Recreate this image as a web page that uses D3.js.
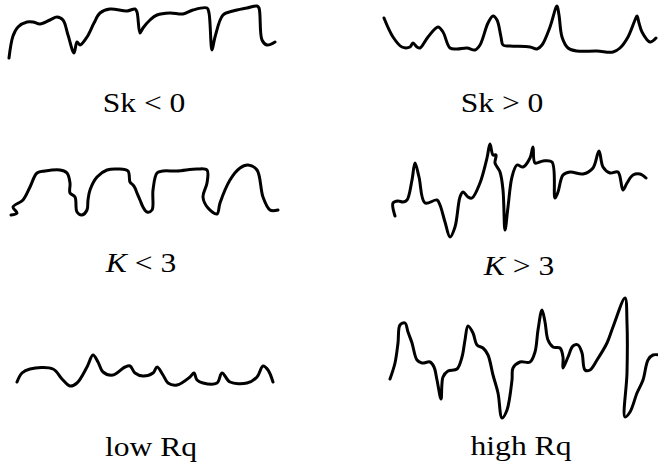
<!DOCTYPE html>
<meta charset="utf-8">
<style>
body { margin: 0; background: #fff; }
svg { display: block; background: #fff; }
.profile { fill: none; stroke: #000; stroke-width: 3px; stroke-linejoin: round; stroke-linecap: round; }
.label { font-family: "Liberation Serif", "Times New Roman", serif; font-size: 27px; fill: #000; }
</style>
<body>
<div id="main"></div>
<script src="https://d3js.org/d3.v7.min.js"></script>
<script>

// profile heights above each row's baseline, as [position, height]
var skNeg = [[9,2],[13,24],[18,33],[27,38],[33,38],[40,36],[50,40],[57,43],[63,40],[68,25],[74,7],[77,18],[80,15],[87,23],[94,37],
  [100,47],[110,51],[127,49],[135,51],[137,48],[140,27],[143,32],[150,40],[157,45],[170,47],[183,46],[193,50],[207,52],
  [209,47],[212,10],[215,23],[223,45],[233,49],[247,52],[257,54],[259,52],[262,20],[267,15],[275,18]];

var skPos = [[14,42],[23,23],[32,13],[40,13],[43,17],[47,13],[50,12],[58,23],[68,33],[73,28],[80,12],[87,11],[97,12],
  [105,10],[110,15],[118,37],[123,44],[127,40],[131,23],[133,15],[140,14],[160,13],[167,11],[172,15],[180,33],[187,54],
  [189,45],[192,23],[198,12],[207,9],[227,9],[243,8],[250,12],[258,23],[265,40],[267,44],[269,37],[272,28],[280,18],[286,22]];

var kLow = [[11,25],[17,27],[13,33],[23,40],[30,53],[37,67],[45,69],[60,70],[67,67],[70,57],[70,47],[75,43],[77,28],[82,25],
  [87,30],[88,40],[90,50],[97,63],[107,70],[118,71],[128,69],[130,58],[133,55],[135,52],[137,47],[140,40],[143,33],[147,28],
  [152,30],[153,50],[157,67],[163,69],[177,69],[197,71],[207,70],[207,57],[203,43],[208,32],[217,26],[220,37],[230,60],
  [240,72],[248,75],[257,70],[263,43],[270,30],[278,30]];

var kHigh = [[25,24],[23,37],[28,39],[33,38],[37,40],[42,60],[45,77],[49,63],[55,37],[67,40],[70,35],[75,18],[80,3],[85,13],
  [90,43],[93,48],[98,43],[102,42],[110,57],[117,82],[120,96],[123,85],[126,85],[125,77],[130,68],[133,50],[135,10],[138,33],
  [142,63],[147,75],[153,73],[160,82],[163,93],[165,77],[173,79],[182,78],[185,42],[188,48],[193,65],[200,68],[213,66],
  [223,72],[229,89],[233,73],[240,67],[248,68],[253,50],[257,57],[263,65],[270,66],[276,62]];

var rqLow = [[17,38],[22,47],[30,51],[53,51],[62,41],[70,34],[77,37],[87,53],[93,65],[98,58],[103,48],[113,45],[125,53],
  [130,54],[135,47],[143,44],[153,47],[157,53],[163,45],[168,37],[177,35],[190,43],[194,47],[197,40],[203,37],[217,37],
  [222,47],[230,38],[247,37],[257,43],[263,54],[268,50],[273,38]];

var rqHigh = [[20,41],[25,57],[28,77],[30,95],[35,97],[38,88],[42,77],[47,60],[52,57],[60,58],[64,53],[67,40],[71,21],[73,43],
  [78,49],[87,51],[92,63],[95,80],[98,94],[103,87],[107,75],[113,72],[118,65],[123,45],[128,27],[132,2],[137,10],[142,40],
  [143,52],[150,58],[160,58],[165,68],[168,90],[172,110],[175,98],[178,80],[183,73],[190,72],[193,63],[193,52],[198,63],
  [203,74],[208,75],[212,67],[215,50],[220,50],[227,60],[237,77],[243,93],[255,122],[257,97],[257,47],[255,3],[260,8],
  [267,27],[273,40],[278,60],[283,65],[289,65]];

var profiles = [skNeg, skPos, kLow, kHigh, rqLow, rqHigh];
var labels = ["Sk < 0", "Sk > 0", "K < 3", "K > 3", "low Rq", "high Rq"];

var width = 658, height = 470;
var colLeft = [0, 370];
var rowBase = [60, 240, 420];
var labelPos = [[144, 112], [502, 112], [141, 272], [519, 275], [151, 456], [521, 455]];

var svg = d3.select("#main").append("svg")
    .attr("width", width)
    .attr("height", height);

profiles.forEach(function(data, i) {
  var col = i % 2, row = Math.floor(i / 2);
  var x = d3.scaleLinear().domain([0, 290]).range([colLeft[col], colLeft[col] + 290]);
  var y = d3.scaleLinear().domain([0, 140]).range([rowBase[row], rowBase[row] - 140]);

  var line = d3.line()
      .x(function(d) { return x(d[0]); })
      .y(function(d) { return y(d[1]); })
      .curve(d3.curveCatmullRom.alpha(0.5));

  svg.append("path")
    .datum(data)
    .attr("class", "profile")
    .attr("d", line);

  // the source figure is stretched sideways, so the labels are too
  var t = svg.append("text")
    .attr("class", "label")
    .attr("text-anchor", "middle")
    .attr("transform", "translate(" + labelPos[i][0] + "," + labelPos[i][1] + ") scale(1.17,1)");

  var txt = labels[i];
  if (txt.charAt(0) === "K") {
    t.append("tspan").style("font-style", "italic").text("K");
    t.append("tspan").text(txt.slice(1));
  } else {
    t.text(txt);
  }
});

</script>
</body>
